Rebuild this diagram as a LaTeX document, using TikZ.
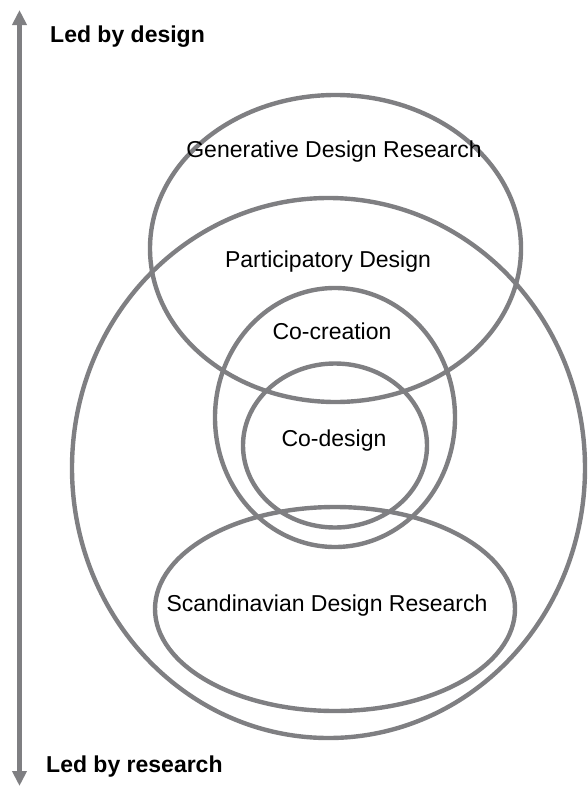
\documentclass[tikz,border=0pt]{standalone}
\usepackage{fontspec}
\setmainfont{Liberation Sans}
\usetikzlibrary{arrows.meta}
\definecolor{ringgray}{RGB}{127,127,130}
\begin{document}
\begin{tikzpicture}[x=1pt, y=-1pt,
   ring/.style={draw=ringgray, line width=4.4pt},
   lbl/.style={font=\fontsize{23}{27}\selectfont, inner sep=0pt},
   axislbl/.style={lbl, font=\fontsize{23}{27}\selectfont\bfseries, anchor=west}]
   \useasboundingbox (0,0) rectangle (588,787);
   \draw[ring] (335.5,248.5) ellipse (185.5 and 153.5);
   \draw[ring] (328.5,468) ellipse (256.5 and 270);
   \draw[ring] (335,417.5) ellipse (120 and 129.5);
   \draw[ring] (335,445.5) ellipse (92 and 82);
   \draw[ring] (335,609) ellipse (180 and 102);
   \coordinate (top) at (19.5,10);
   \coordinate (bottom) at (19.5,786);
   \draw[draw=ringgray, line width=5pt, {Triangle[width=14pt,length=15pt]}-{Triangle[width=14pt,length=15pt]}] (top) -- (bottom);
   \node[axislbl] (design) at (50,37) {Led by design};
   \node[axislbl] (research) at (46,767) {Led by research};
   \node[lbl] (gdr) at (334,152) {Generative Design Research};
   \node[lbl] (pd) at (328,262) {Participatory Design};
   \node[lbl] (cocreation) at (332,331) {Co-creation};
   \node[lbl] (codesign) at (334,441) {Co-design};
   \node[lbl] (sdr) at (327,606) {Scandinavian Design Research};
  \end{tikzpicture}
\end{document}
